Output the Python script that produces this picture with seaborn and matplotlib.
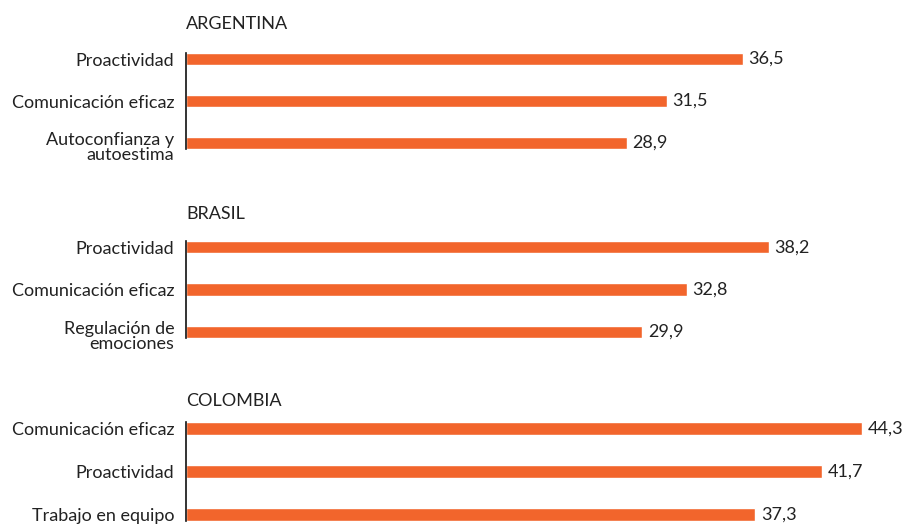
import matplotlib
matplotlib.use("Agg")
import matplotlib.pyplot as plt
import matplotlib.transforms as mtransforms
import seaborn as sns
import pandas as pd

countries = ["ARGENTINA", "BRASIL", "COLOMBIA"]
arg_labels = ["Proactividad", "Comunicación eficaz", "Autoconfianza y\nautoestima"]
arg_values = [36.5, 31.5, 28.9]
bra_labels = ["Proactividad", "Comunicación eficaz", "Regulación de\nemociones"]
bra_values = [38.2, 32.8, 29.9]
col_labels = ["Comunicación eficaz", "Proactividad", "Trabajo en equipo"]
col_values = [44.3, 41.7, 37.3]

groups = [(arg_labels, arg_values), (bra_labels, bra_values), (col_labels, col_values)]

sns.set_theme(style="white")
plt.rcParams['font.family'] = ['Lato', 'DejaVu Sans']

W, H = 902, 525
fig = plt.figure(figsize=(W / 100, H / 100), dpi=100)

bar_color = "#F2652C"
text_color = "#222222"
px_per_unit = 15.26
x0 = 186
xmax = 46
bw = 0.29
fs = 13
# (top px, bottom px) of each axes
spans = [(53, 149), (241, 338), (422, 521)]
title_y = [24, 214, 401]

for (labels, values), country, (top, bot), ty in zip(groups, countries, spans, title_y):
    ax = fig.add_axes([x0 / W, 1 - bot / H, xmax * px_per_unit / W, (bot - top) / H])
    df = pd.DataFrame({"label": labels, "value": values})
    sns.barplot(data=df, x="value", y="label", ax=ax, color=bar_color,
                width=bw, saturation=1, orient="h")
    ax.set_xlim(0, xmax)
    ax.set_ylim(2 + bw / 2, -bw / 2)
    ax.set_xlabel("")
    ax.set_ylabel("")
    ax.set_xticks([])
    for s in ["top", "right", "bottom"]:
        ax.spines[s].set_visible(False)
    ax.spines["left"].set_color("#111111")
    ax.spines["left"].set_linewidth(1.2)
    ax.tick_params(axis="y", length=0, pad=8.5, labelsize=fs, labelcolor=text_color)
    shift = mtransforms.ScaledTranslation(0, -3.5 / 100, fig.dpi_scale_trans)
    for t in ax.get_yticklabels():
        t.set_horizontalalignment("right")
        t.set_multialignment("right")
        t.set_linespacing(0.92)
        if "\n" in t.get_text():
            t.set_transform(t.get_transform() + shift)
    for cont in ax.containers:
        ax.bar_label(cont, labels=[f"{v:.1f}".replace(".", ",") for v in values],
                     padding=4, fontsize=fs, color=text_color)
    fig.text(x0 / W, 1 - ty / H, country, ha="left", va="center",
             fontsize=fs, color=text_color)

fig.savefig("out.png", dpi=100, facecolor="white")
